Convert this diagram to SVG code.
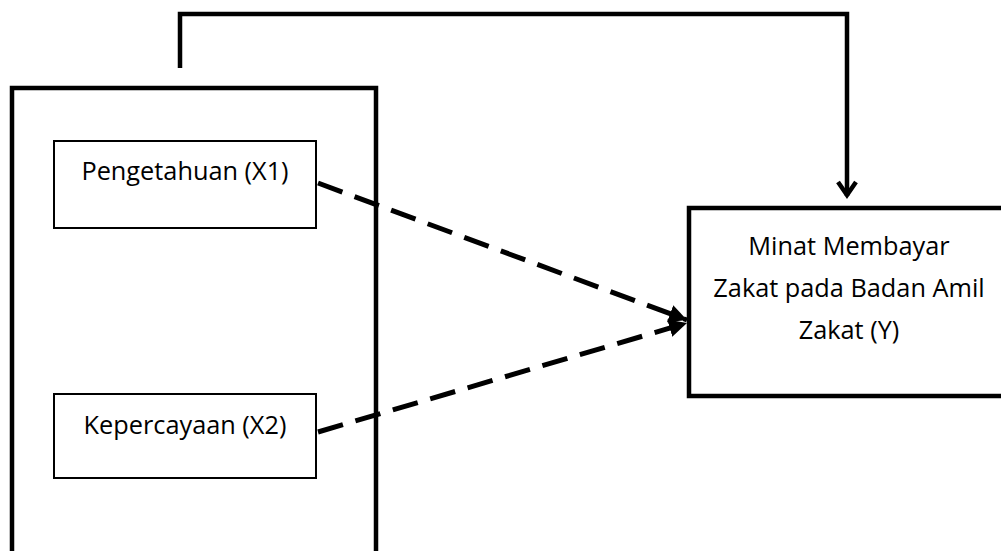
<svg xmlns="http://www.w3.org/2000/svg" width="1001" height="551" viewBox="0 0 1001 551">
<style>
.box{fill:#fff;stroke:#000;stroke-width:2}
.thick{fill:none;stroke:#000;stroke-width:4.5}
.lbl{font-family:"Open Sans","Liberation Sans",sans-serif;font-size:25.3px;fill:#000;text-anchor:middle}
.dash{fill:none;stroke:#000;stroke-width:5;stroke-dasharray:26 13}
</style>
<defs>
<marker id="tri" viewBox="0 0 10 10" refX="10" refY="5" markerWidth="3.6" markerHeight="5.2" markerUnits="strokeWidth" orient="auto">
<path d="M0,0 L10,5 L0,10 z" fill="#000"/>
</marker>
</defs>
<rect width="1001" height="551" fill="#fff"/>
<g id="group-x">
<rect class="thick" x="12" y="88" width="364" height="480"/>
</g>
<g id="x1">
<rect class="box" x="54" y="141" width="262" height="87"/>
<text class="lbl" x="185" y="180">Pengetahuan (X1)</text>
</g>
<g id="x2">
<rect class="box" x="54" y="394" width="262" height="84"/>
<text class="lbl" x="185" y="434">Kepercayaan (X2)</text>
</g>
<g id="y">
<rect class="thick" x="689" y="208" width="330" height="188"/>
<text class="lbl" x="849" y="255">Minat Membayar</text>
<text class="lbl" x="849" y="297">Zakat pada Badan Amil</text>
<text class="lbl" x="849" y="339">Zakat (Y)</text>
</g>
<g id="connectors">
<path class="thick" d="M180,68 V14 H847 V196"/>
<path class="thick" d="M838,182 L847,195 L856,182"/>
<path class="dash" d="M318,183 L687,320" marker-end="url(#tri)"/>
<path class="dash" d="M318,432 L687,323" marker-end="url(#tri)"/>
</g>
</svg>
